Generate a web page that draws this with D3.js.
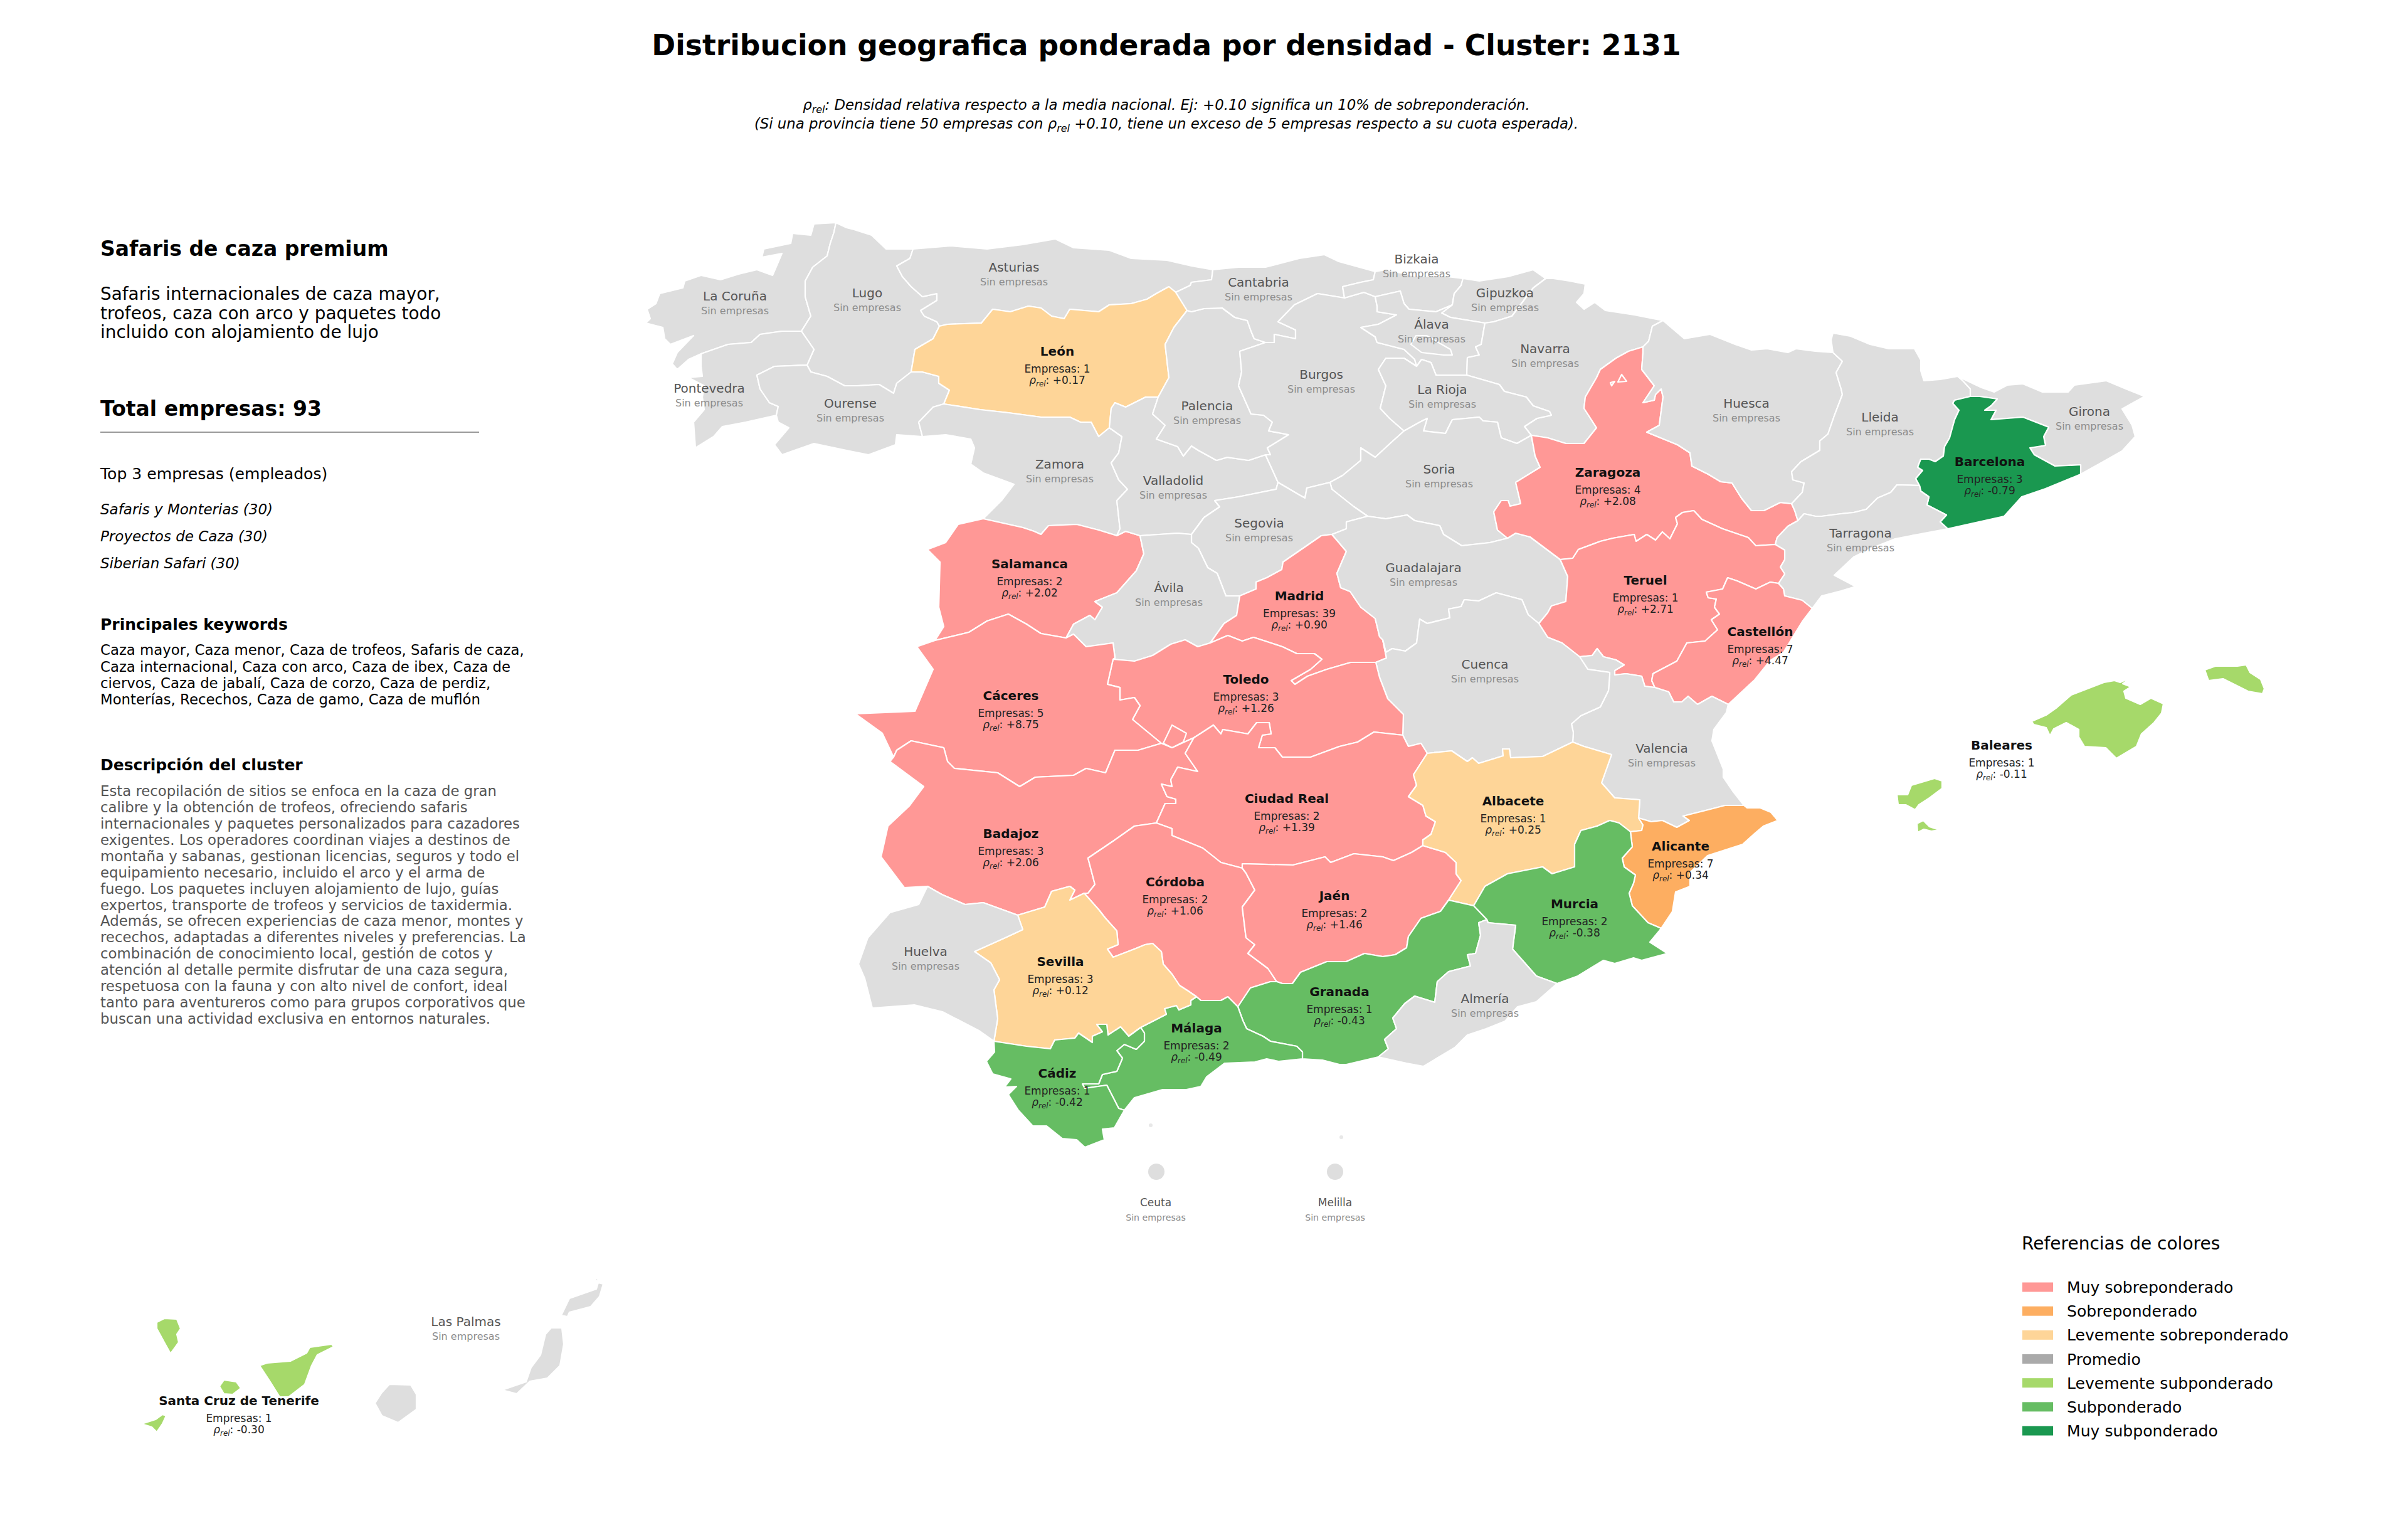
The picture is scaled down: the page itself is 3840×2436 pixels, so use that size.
<!DOCTYPE html>
<html>
<head>
<meta charset="utf-8">
<script src="https://cdn.jsdelivr.net/npm/d3@7"></script>
<style>
  body { margin: 0; background: #fff; }
  text { font-family: "DejaVu Sans", sans-serif; }
</style>
</head>
<body>
<div class="chart"></div>
<script>
// province values (null = sin empresas)
const provinces = ["La Coruña","Lugo","Asturias","Pontevedra","Ourense","León","Zamora","Salamanca","Valladolid","Palencia","Cantabria","Burgos","Bizkaia","Gipuzkoa","Álava","Navarra","La Rioja","Soria","Segovia","Ávila","Madrid","Guadalajara","Zaragoza","Huesca","Lleida","Girona","Barcelona","Tarragona","Teruel","Castellón","Valencia","Cuenca","Toledo","Cáceres","Badajoz","Ciudad Real","Córdoba","Jaén","Albacete","Alicante","Murcia","Granada","Almería","Málaga","Sevilla","Huelva","Cádiz","Baleares","Santa Cruz de Tenerife","Las Palmas"];
const empresas = [null,null,null,null,null,1,null,2,null,null,null,null,null,null,null,null,null,null,null,null,39,null,4,null,null,null,3,null,1,7,null,null,3,5,3,2,2,2,1,7,2,1,null,2,3,null,1,1,1,null];
const rhoRel = [null,null,null,null,null,0.17,null,2.02,null,null,null,null,null,null,null,null,null,null,null,null,0.90,null,2.08,null,null,null,-0.79,null,2.71,4.47,null,null,1.26,8.75,2.06,1.39,1.06,1.46,0.25,0.34,-0.38,-0.43,null,-0.49,0.12,null,-0.42,-0.11,-0.30,null];

const legendLabels = ["Muy sobreponderado","Sobreponderado","Levemente sobreponderado","Promedio","Levemente subponderado","Subponderado","Muy subponderado"];
const legendColors = ["#ff9896","#fdae61","#fed598","#aaaaaa","#a6d96a","#66bd63","#1a9850"];
const noDataColor = "#dedede";

const topCompanies = ["Safaris y Monterias (30)","Proyectos de Caza (30)","Siberian Safari (30)"];
const clusterLines = ["Safaris internacionales de caza mayor,","trofeos, caza con arco y paquetes todo","incluido con alojamiento de lujo"];
const keywordLines = ["Caza mayor, Caza menor, Caza de trofeos, Safaris de caza,","Caza internacional, Caza con arco, Caza de ibex, Caza de","ciervos, Caza de jabalí, Caza de corzo, Caza de perdiz,","Monterías, Recechos, Caza de gamo, Caza de muflón"];
const descriptionLines = ["Esta recopilación de sitios se enfoca en la caza de gran","calibre y la obtención de trofeos, ofreciendo safaris","internacionales y paquetes personalizados para cazadores","exigentes. Los operadores coordinan viajes a destinos de","montaña y sabanas, gestionan licencias, seguros y todo el","equipamiento necesario, incluido el arco y el arma de","fuego. Los paquetes incluyen alojamiento de lujo, guías","expertos, transporte de trofeos y servicios de taxidermia.","Además, se ofrecen experiencias de caza menor, montes y","recechos, adaptadas a diferentes niveles y preferencias. La","combinación de conocimiento local, gestión de cotos y","atención al detalle permite disfrutar de una caza segura,","respetuosa con la fauna y con alto nivel de confort, ideal","tanto para aventureros como para grupos corporativos que","buscan una actividad exclusiva en entornos naturales."];

// traced outlines in map units, shared borders are only stored once
const borders = {
  coast_A:"1333,355 1298,357 1293,375 1264,372 1261,388 1218,397 1215,410 1247,404 1232,439 1207,430 1178,437 1149,446 1118,439 1092,448 1089,459 1052,468 1046,484 1032,493 1037,508 1030,515 1057,522 1060,540 1069,549 1106,535 1080,562 1072,580 1080,589 1098,573 1118,564",
  A_PO:"1118,564 1138,557 1161,549 1198,546 1212,533 1247,528 1278,528",
  A_LU:"1333,355 1330,370 1324,388 1319,408 1296,426 1284,448 1284,473 1293,504 1278,528",
  LU_PO:"1278,528 1298,557 1287,582",
  PO_OU:"1287,582 1235,584 1207,598 1212,620 1227,642 1241,648 1238,662",
  coast_PO:"1238,662 1189,673 1152,680 1138,696 1109,714 1106,673 1123,653 1120,633 1123,615 1098,602 1120,600 1118,584 1118,564",
  coast_LU:"1333,355 1350,363 1362,366 1390,375 1413,397 1456,397",
  LU_AS:"1456,397 1451,412 1430,424 1439,441 1453,457 1471,473 1494,468 1494,479 1468,495 1474,504 1494,513 1498,520",
  LU_LE:"1498,520 1488,540 1459,557 1453,593",
  LU_OU:"1453,593 1430,611 1425,627 1402,613 1367,615 1347,615 1319,600 1293,593 1287,582",
  coast_AS:"1456,397 1517,392 1574,397 1631,390 1683,381 1712,395 1769,399 1804,412 1861,415 1900,424 1934,430",
  AS_CB:"1934,430 1932,446 1900,450 1898,455 1875,466",
  AS_LE:"1875,466 1864,457 1844,468 1829,477 1804,484 1769,486 1752,497 1706,493 1697,508 1677,504 1660,491 1640,488 1611,497 1583,493 1565,515 1511,517 1498,520",
  LE_CB:"1875,466 1893,495",
  LE_PA:"1893,495 1872,522 1858,549 1864,602 1847,633",
  LE_VA:"1847,633 1827,633 1795,649 1778,642 1772,651 1769,682",
  PA_VA:"1847,633 1838,660 1858,678 1844,700 1878,712 1887,727 1900,711 1911,718 1940,734 1957,729 1991,734 2018,725",
  CB_PA:"1893,495 1900,497 1920,492 1949,491 1969,506 1989,511 1995,528 2000,540 2018,546",
  PA_BU:"2018,546 1977,560 1980,593 1975,615 1995,660 2015,662 2029,673 2023,687 2055,693 2021,714 2026,725 2018,725",
  VA_BU:"2018,725 2029,749 2038,769",
  LE_ZA:"1769,682 1752,696 1740,673 1723,673 1706,665 1660,665 1608,658 1563,653 1505,644",
  LE_OU:"1505,644 1514,622 1497,611 1497,600 1471,593 1453,593",
  OU_ZA:"1505,644 1488,649 1465,673 1471,696",
  coast_OU:"1471,696 1430,693 1428,709 1385,725 1350,718 1298,707 1247,725 1235,709 1258,682 1241,673 1238,662",
  coast_ZA:"1471,696 1508,693 1548,700 1554,714 1548,740 1568,754 1617,772 1597,798 1568,827",
  ZA_SA:"1568,827 1631,841 1649,847 1660,852 1672,838 1717,836 1752,845 1781,854",
  ZA_VA:"1769,682 1789,696 1784,722 1772,738 1784,765 1798,780 1781,798 1786,843 1781,854",
  SA_VA:"1781,854 1795,847 1818,854",
  SA_AV:"1818,854 1824,883 1812,910 1781,945 1746,959 1758,968 1746,988 1738,981 1712,995 1700,1017",
  coast_SA:"1568,827 1528,836 1508,865 1479,876 1499,896 1497,968 1505,999 1491,1021",
  SA_CC:"1491,1021 1545,1008 1574,990 1608,979 1637,995 1660,1010 1700,1017",
  CC_AV:"1700,1017 1712,1011 1732,1031 1775,1025 1778,1049 1775,1051",
  coast_CC:"1491,1021 1462,1031 1488,1067 1459,1134 1364,1138 1407,1169 1425,1207",
  CC_BA:"1425,1207 1430,1196 1453,1181 1505,1192 1511,1214 1522,1225 1591,1232 1626,1254 1651,1239 1712,1236 1732,1225 1763,1232 1778,1196 1815,1196 1852,1185",
  CC_TO:"1852,1185 1806,1147 1818,1125 1809,1112 1786,1116 1786,1096 1766,1091 1775,1051",
  AV_TO:"1775,1051 1809,1054 1838,1045 1867,1027 1890,1020 1910,1031 1930,1025",
  AV_MA:"1930,1025 1952,994 1972,981 1977,950",
  SG_AV:"1900,852 1900,865 1911,874 1926,905 1941,914 1955,950 1977,950",
  AV_VA:"1818,854 1878,850 1900,852",
  SG_VA:"1900,852 1920,825 1945,808 1937,798 1975,792 2035,780 2038,769",
  SG_BU:"2038,769 2072,789 2081,794 2084,778 2121,769",
  SG_SO:"2121,769 2124,780 2158,807 2181,823",
  SG_GU:"2181,823 2147,832 2147,843 2124,852",
  SG_MA:"1977,950 2003,939 2003,928 2020,921 2044,908 2046,896 2078,874 2107,854 2124,852",
  MA_GU:"2124,852 2147,879 2132,914 2138,937 2153,943 2170,968 2193,986 2200,1015 2205,1020",
  MA_CU:"2205,1020 2211,1049 2194,1056",
  MA_TO:"1930,1025 1958,1013 1981,1022 1999,1016 2045,1031 2068,1042 2096,1042 2108,1051 2090,1067 2059,1085 2065,1091 2085,1078 2116,1067 2154,1056 2194,1056",
  GU_SO:"2181,823 2210,827 2244,821 2256,830 2296,838 2302,852 2331,870 2376,865 2404,858",
  SO_Z:"2442,694 2448,727 2456,745 2417,769 2425,803 2408,807 2405,798 2394,798 2382,816 2388,845 2404,858",
  GU_Z:"2404,858 2417,850 2440,856 2488,892",
  GU_TE:"2488,892 2500,919 2497,959 2474,966 2468,977 2454,994",
  GU_CU:"2454,994 2437,980 2427,956 2386,945 2358,958 2335,956 2330,967 2310,971 2312,985 2276,994 2264,987 2259,1025 2241,1038 2220,1034 2210,1040 2205,1020",
  Z_TE:"2488,892 2508,890 2517,876 2552,863 2572,858 2606,852 2609,863 2626,852 2640,861 2651,848 2663,859 2675,835 2672,825 2683,817 2701,814 2714,828 2747,843 2788,857 2800,870 2831,868",
  BU_SO:"2121,769 2141,758 2170,734 2170,714 2193,729 2219,705 2239,687",
  SO_RI:"2239,687 2264,673 2276,667 2270,687 2305,691 2316,669 2359,665 2365,671 2388,673 2394,698 2419,707 2442,694",
  BU_RI:"2239,687 2216,667 2201,651 2210,615 2198,589 2210,571 2239,571 2259,584",
  AL_RI:"2259,584 2267,573 2282,578 2290,598 2316,598 2339,598",
  AL_BU:"2193,473 2196,488 2196,497 2227,502 2198,517 2170,522 2193,537 2196,546 2239,557 2256,573 2259,584",
  NA_RI:"2339,598 2391,613 2399,624 2434,633 2445,647 2471,656 2474,662 2451,667 2431,680 2442,694",
  AL_NA:"2368,515 2362,549 2353,553 2359,566 2340,570 2339,598",
  GI_AL:"2316,486 2299,499 2313,506 2368,515",
  BI_AL:"2193,473 2233,464 2239,484 2247,493 2290,497 2316,486",
  BI_GI:"2333,444 2330,455 2319,468 2316,486",
  GI_NA:"2465,444 2445,459 2411,504 2382,513 2368,515",
  coast_GI:"2333,444 2359,448 2405,441 2445,430 2465,444",
  coast_BI:"2193,433 2210,430 2256,440 2300,440 2333,444",
  CB_BI:"2193,433 2190,446 2170,450 2141,457 2144,475",
  BI_BU:"2144,475 2175,466 2193,473",
  CB_BU:"2018,546 2032,546 2032,533 2066,540 2066,526 2038,513 2064,486 2101,468 2144,475",
  coast_CB:"1934,430 1975,426 2018,426 2072,412 2112,406 2135,417 2193,433",
  coast_NA:"2465,444 2477,444 2503,448 2528,453 2526,468 2514,482 2526,493 2543,482 2560,495 2606,502 2652,511",
  NA_HU:"2652,511 2635,520 2629,544 2620,553",
  NA_Z:"2620,553 2597,560 2577,571 2552,589 2546,602 2528,633 2526,651 2546,682 2526,707 2497,707 2468,698 2442,694",
  Z_HU:"2620,553 2620,562 2618,589 2638,615 2620,642 2638,638 2640,629 2649,620 2652,633 2646,678 2626,689 2675,709 2695,722 2698,743 2724,756 2744,768 2762,770 2777,794 2793,814 2813,814 2839,801 2857,803",
  Z_L:"2857,803 2862,814 2867,830",
  Z_T:"2867,830 2851,839 2834,857 2831,868",
  coast_HU:"2652,511 2686,540 2727,533 2767,549 2793,558 2818,556 2851,562 2864,556 2895,560 2923,562",
  HU_L:"2923,562 2938,576 2928,594 2936,620 2938,629 2925,663 2915,692 2902,703 2902,718 2872,736 2857,752 2859,765 2877,770 2874,785 2857,803",
  L_T:"2867,830 2877,819 2895,823 2905,823 2936,819 2956,817 2976,812 2994,794 3015,785 3025,773 3061,774",
  L_B:"3061,774 3055,763 3066,750 3058,745 3063,732 3076,732 3086,736 3099,727 3101,712 3109,698 3112,687 3117,669 3124,654 3114,643 3117,638 3142,632",
  coast_L:"2923,562 2920,542 2923,531 2951,536 2982,549 3012,556 3053,556 3063,574 3063,591 3068,607 3094,605 3122,600",
  L_GI:"3122,600 3130,607 3142,620 3142,632",
  GI_B:"3142,632 3157,632 3185,636 3175,647 3165,654 3183,654 3175,669 3226,665 3267,681 3259,696 3262,710 3237,714 3244,725 3277,743 3318,741 3318,756",
  coast_G:"3122,600 3160,618 3180,625 3201,614 3226,612 3257,625 3298,625 3308,614 3359,607 3390,620 3420,632 3400,643 3384,652 3400,678 3405,696 3384,719 3354,736 3318,756",
  coast_B:"3318,756 3262,779 3224,792 3196,823 3106,843",
  B_T:"3061,774 3063,783 3076,792 3073,805 3104,821 3094,832 3106,843",
  coast_T:"3106,843 3058,852 3022,859 2982,875 2956,888 2925,917 2959,935 2936,942 2905,950 2890,970",
  T_CS:"2890,970 2874,957 2846,950 2844,939 2836,930",
  T_TE:"2831,868 2846,877 2846,892 2839,904 2846,915 2836,930",
  coast_CS:"2890,970 2874,991 2844,1040 2823,1053 2798,1084 2756,1123",
  CS_TE:"2836,930 2823,928 2800,939 2770,926 2755,921 2747,939 2721,944 2724,953 2737,955 2734,968 2742,979 2729,988 2739,1004 2719,1022 2690,1025 2674,1054 2636,1074 2634,1085 2639,1096",
  CS_V:"2639,1096 2661,1103 2669,1119 2682,1119 2692,1110 2707,1123 2730,1110 2756,1123",
  TE_V:"2639,1096 2623,1094 2618,1078 2593,1074 2575,1076",
  TE_RN:"2575,1076 2575,1069 2590,1060 2577,1052 2557,1047 2547,1034 2539,1045 2519,1047",
  CU_TE:"2454,994 2468,1016 2491,1025 2519,1047",
  CU_RN:"2519,1047 2532,1067 2567,1072 2567,1076",
  CU_V:"2508,1183 2509,1168 2506,1154 2521,1141 2552,1127 2565,1101 2567,1076",
  coast_V:"2756,1123 2753,1136 2733,1163 2730,1181 2748,1226 2748,1239 2763,1261 2781,1284",
  V_A:"2781,1284 2751,1284 2720,1292 2684,1301 2694,1308 2674,1319 2651,1308 2633,1310 2613,1304",
  AB_V:"2613,1304 2615,1275 2575,1272 2554,1248 2570,1203 2526,1190 2508,1183",
  AB_CU:"2508,1183 2460,1206 2409,1208 2407,1194 2396,1194 2397,1205 2358,1217 2348,1208 2340,1214 2315,1197 2276,1201",
  TO_CU:"2194,1056 2200,1080 2213,1114 2238,1139 2237,1172",
  CR_CU:"2237,1172 2246,1190 2266,1185 2276,1201",
  CR_TO:"2237,1172 2191,1167 2165,1183 2136,1190 2090,1207 2045,1207 2033,1192 2007,1192 2013,1172 2027,1170 2024,1152 2004,1152 1990,1170 1950,1163 1947,1170 1935,1156 1915,1169 1904,1176",
  BA_TO:"1852,1185 1869,1192 1904,1176",
  CR_BA:"1904,1176 1890,1201 1910,1230 1878,1223 1867,1243 1869,1254 1852,1250 1861,1270 1875,1274 1875,1281 1858,1281 1844,1312",
  BA_CO:"1844,1312 1809,1317 1775,1341 1735,1368 1746,1410 1735,1424 1729,1424",
  CR_CO:"1844,1312 1869,1321 1869,1332 1918,1352 1947,1375 1981,1384",
  CR_J:"1981,1384 1981,1377 2062,1379 2113,1366 2122,1375 2159,1361 2205,1366 2222,1372 2251,1359 2269,1348",
  AB_CR:"2276,1201 2254,1235 2259,1252 2246,1270 2269,1284 2274,1301 2289,1310 2282,1330 2269,1339 2269,1348",
  AB_J:"2269,1348 2305,1359 2322,1375 2322,1393 2330,1404 2310,1435",
  AB_GR:"2310,1435 2350,1444",
  AB_MU:"2350,1444 2368,1413 2404,1393 2460,1382 2475,1393 2511,1382 2511,1346 2521,1324 2547,1317 2567,1308 2582,1312 2600,1326",
  AB_A:"2600,1326 2618,1324 2620,1315 2613,1304",
  coast_A2:"2781,1284 2786,1288 2807,1288 2824,1295 2835,1308 2812,1317 2799,1328 2779,1346 2723,1364 2695,1391 2695,1413 2672,1422 2667,1453 2649,1480",
  MU_A:"2600,1326 2603,1350 2587,1368 2590,1382 2608,1395 2605,1408 2598,1424 2603,1444 2628,1471 2649,1480",
  coast_MU:"2649,1480 2646,1484 2631,1502 2659,1520 2618,1531 2605,1527 2575,1536 2557,1531 2516,1556 2483,1568",
  MU_AL:"2483,1568 2450,1556 2412,1513 2417,1475 2373,1471 2371,1466",
  GR_MU:"2350,1444 2371,1466",
  AL_GR:"2371,1466 2358,1471 2361,1491 2353,1520 2340,1522 2345,1540 2310,1549 2292,1565 2288,1598 2256,1588 2240,1600 2221,1623 2227,1640 2208,1657 2214,1672 2198,1685",
  coast_AL:"2483,1568 2450,1597 2420,1605 2400,1628 2370,1640 2340,1650 2320,1670 2270,1700 2243,1695 2198,1685",
  coast_GR:"2198,1685 2147,1697 2136,1697 2109,1690 2077,1688",
  GR_MA:"2077,1688 2077,1677 2068,1668 2026,1660 2014,1652 1988,1640 1982,1627 1974,1605",
  CO_GR:"1974,1605 1994,1575 2026,1565 2036,1565",
  J_GR:"2036,1565 2045,1568 2061,1568 2074,1550 2116,1533 2147,1533 2176,1520 2205,1525 2225,1522 2243,1511 2246,1493 2266,1464 2297,1453 2310,1435",
  CO_J:"1981,1384 1987,1392 2001,1419 1981,1446 1987,1495 2001,1506 1990,1520 2022,1544 2036,1565",
  CO_SE:"1729,1424 1752,1450 1763,1464 1781,1484 1783,1506 1766,1513 1775,1526 1809,1513 1826,1506 1838,1504 1852,1517 1855,1537 1869,1553 1881,1571 1895,1580 1908,1589",
  CO_MA:"1908,1589 1915,1595 1947,1595 1958,1589 1974,1605",
  BA_SE:"1729,1424 1706,1435 1714,1419 1706,1413 1677,1421 1666,1446 1623,1459",
  BA_H:"1623,1459 1568,1439 1539,1442 1502,1426 1479,1413",
  coast_BA:"1425,1207 1419,1214 1473,1254 1450,1285 1416,1317 1405,1366 1442,1415 1479,1413",
  H_SE:"1623,1459 1631,1482 1603,1495 1554,1517 1580,1535 1594,1562 1585,1578 1591,1624 1585,1660",
  coast_H:"1479,1413 1465,1442 1419,1455 1384,1495 1369,1537 1379,1560 1391,1607 1458,1602 1503,1613 1561,1643 1585,1660",
  SE_CA:"1585,1660 1637,1668 1675,1672 1682,1658 1714,1655 1720,1647 1742,1662 1742,1652 1758,1645 1749,1633 1765,1633 1767,1650 1787,1637 1800,1652 1819,1638",
  SE_MA:"1819,1638 1860,1617 1857,1608 1876,1603 1880,1610 1899,1602 1899,1595 1908,1589",
  CA_MA:"1819,1638 1825,1647 1825,1660 1812,1673 1793,1665 1781,1675 1790,1687 1781,1708 1758,1713 1752,1728 1726,1728 1730,1735 1765,1730 1784,1767 1793,1770",
  coast_MA:"1793,1770 1809,1750 1854,1737 1892,1737 1915,1732 1924,1717 1953,1695 2001,1693 2020,1688 2039,1692 2077,1688",
  coast_CA:"1585,1660 1586,1677 1573,1692 1583,1712 1612,1720 1602,1733 1621,1732 1608,1745 1624,1770 1647,1795 1669,1795 1694,1815 1717,1817 1730,1829 1761,1817 1758,1800 1777,1798 1793,1770",
  // islands and enclaves, each one is a closed ring
  mallorca:"3240,1150 3263,1140 3280,1128 3303,1108 3355,1088 3372,1085 3381,1088 3398,1080 3385,1090 3398,1095 3387,1102 3390,1113 3413,1123 3430,1113 3450,1122 3447,1137 3435,1152 3415,1170 3407,1190 3375,1209 3358,1192 3324,1190 3315,1175 3315,1163 3295,1152 3275,1162 3269,1173 3263,1160 3243,1155",
  menorca:"3516,1068 3533,1062 3568,1062 3582,1060 3588,1072 3605,1083 3611,1098 3608,1106 3585,1102 3545,1082 3522,1085",
  ibiza:"3025,1267 3042,1267 3048,1252 3085,1241 3097,1245 3097,1257 3077,1272 3060,1283 3054,1291 3039,1283 3027,1283",
  formentera:"3057,1313 3067,1308 3077,1318 3092,1323 3080,1325 3068,1322 3058,1327",
  cabrera:"3349,1235 3352,1232 3355,1235",
  laPalma:"250,2108 262,2102 282,2103 288,2118 282,2127 285,2140 272,2158 262,2140 250,2118",
  gomera:"350,2210 357,2200 377,2203 384,2213 371,2223 357,2222",
  tenerife:"414,2177 426,2173 463,2170 489,2157 494,2148 529,2143 532,2147 506,2160 497,2177 486,2207 460,2227 446,2227 431,2203",
  hierro:"226,2270 248,2263 259,2255 265,2257 259,2270 250,2283 242,2275",
  granCanaria:"598,2237 609,2220 621,2207 655,2208 664,2223 664,2247 635,2268 609,2257",
  fuerteventura:"801,2216 839,2203 847,2180 862,2160 870,2127 879,2117 896,2117 899,2143 893,2177 873,2197 845,2202 824,2222",
  lanzarote:"895,2097 908,2070 931,2062 951,2055 954,2045 962,2047 956,2067 942,2083 908,2092 905,2099",
  graciosa:"949,2042 952,2036 954,2042",
  encl_BA:"1855,1185 1869,1156 1892,1169 1887,1183 1869,1192",
  encl_Z1:"2586,597 2594,608 2580,609",
  encl_Z2:"2568,610 2575,608 2570,615",
  encl_AL:"2250,549 2267,562 2302,566 2316,566 2313,557 2299,549 2275,535 2258,535"
};

// which borders close each province, same order as provinces[]
const rings = [
  [["coast_A","A_PO","A_LU"]],
  [["coast_LU","LU_AS","LU_LE","LU_OU","LU_PO","A_LU"]],
  [["coast_AS","AS_CB","AS_LE","LU_AS"]],
  [["A_PO","LU_PO","PO_OU","coast_PO"]],
  [["PO_OU","LU_OU","LE_OU","OU_ZA","coast_OU"]],
  [["AS_LE","LE_CB","LE_PA","LE_VA","LE_ZA","LE_OU","LU_LE"]],
  [["LE_ZA","ZA_VA","ZA_SA","coast_ZA","OU_ZA"]],
  [["ZA_SA","SA_VA","SA_AV","SA_CC","coast_SA"]],
  [["LE_VA","PA_VA","VA_BU","SG_VA","AV_VA","SA_VA","ZA_VA"]],
  [["LE_PA","PA_VA","PA_BU","CB_PA"]],
  [["coast_CB","CB_BI","CB_BU","CB_PA","LE_CB","AS_CB"]],
  [["CB_BU","BI_BU","AL_BU","BU_RI","BU_SO","SG_BU","VA_BU","PA_BU"]],
  [["coast_BI","BI_GI","BI_AL","BI_BU","CB_BI"]],
  [["coast_GI","GI_NA","GI_AL","BI_GI"]],
  [["BI_AL","GI_AL","AL_NA","AL_RI","AL_BU"],["encl_AL"]],
  [["coast_NA","NA_HU","NA_Z","NA_RI","AL_NA","GI_NA"]],
  [["BU_RI","AL_RI","NA_RI","SO_RI"]],
  [["SG_SO","BU_SO","SO_RI","SO_Z","GU_SO"]],
  [["SG_VA","SG_BU","SG_SO","SG_GU","SG_MA","SG_AV"]],
  [["AV_VA","SG_AV","AV_MA","AV_TO","CC_AV","SA_AV"]],
  [["AV_MA","SG_MA","MA_GU","MA_CU","MA_TO"]],
  [["SG_GU","GU_SO","GU_Z","GU_TE","GU_CU","MA_GU"]],
  [["NA_Z","Z_HU","Z_L","Z_T","Z_TE","GU_Z","SO_Z"],["encl_Z1"],["encl_Z2"]],
  [["coast_HU","HU_L","Z_HU","NA_HU"]],
  [["coast_L","L_GI","L_B","L_T","Z_L","HU_L"]],
  [["coast_G","GI_B","L_GI"]],
  [["GI_B","coast_B","B_T","L_B"]],
  [["L_T","B_T","coast_T","T_CS","T_TE","Z_T"]],
  [["Z_TE","T_TE","CS_TE","TE_V","TE_RN","CU_TE","GU_TE"]],
  [["T_CS","coast_CS","CS_V","CS_TE"]],
  [["CU_V","CU_RN","TE_RN","TE_V","CS_V","coast_V","V_A","AB_V"]],
  [["GU_CU","CU_TE","CU_RN","CU_V","AB_CU","CR_CU","TO_CU","MA_CU"]],
  [["AV_TO","MA_TO","TO_CU","CR_TO","BA_TO","CC_TO"]],
  [["SA_CC","CC_AV","CC_TO","CC_BA","coast_CC"]],
  [["CC_BA","BA_TO","CR_BA","BA_CO","BA_SE","BA_H","coast_BA"],["encl_BA"]],
  [["CR_TO","CR_CU","AB_CR","CR_J","CR_CO","CR_BA"]],
  [["BA_CO","CR_CO","CO_J","CO_GR","CO_MA","CO_SE"]],
  [["CR_J","AB_J","J_GR","CO_J"]],
  [["AB_CU","AB_V","AB_A","AB_MU","AB_GR","AB_J","AB_CR"]],
  [["AB_A","V_A","coast_A2","MU_A"]],
  [["AB_MU","MU_A","coast_MU","MU_AL","GR_MU","AB_GR"]],
  [["AB_GR","GR_MU","AL_GR","coast_GR","GR_MA","CO_GR","J_GR"]],
  [["AL_GR","MU_AL","coast_AL"]],
  [["SE_MA","CO_MA","GR_MA","coast_MA","CA_MA"]],
  [["BA_SE","CO_SE","SE_MA","SE_CA","H_SE"]],
  [["BA_H","H_SE","coast_H"]],
  [["SE_CA","CA_MA","coast_CA"]],
  [["mallorca"],["menorca"],["ibiza"],["formentera"],["cabrera"]],
  [["laPalma"],["gomera"],["tenerife"],["hierro"]],
  [["granCanaria"],["fuerteventura"],["lanzarote"],["graciosa"]]
];

// label anchors, same order as provinces[]
const labelAnchors = [[1172,472],[1383,467],[1617,426],[1131,619],[1356,643],[1686,560],[1690,740],[1642,899],[1871,766],[1925,647],[2007,450],[2107,597],[2259,413],[2400,467],[2283,517],[2464,556],[2300,621],[2295,748],[2008,834],[1864,937],[2072,950],[2270,905],[2564,753],[2785,643],[2998,665],[3332,656],[3173,736],[2967,850],[2624,925],[2807,1007],[2650,1193],[2368,1059],[1987,1083],[1612,1109],[1612,1329],[2052,1273],[1874,1406],[2128,1428],[2413,1277],[2680,1349],[2511,1441],[2136,1581],[2368,1592],[1908,1639],[1691,1533],[1476,1517],[1686,1711],[3192,1188],[381,2233],[743,2107]];

// plazas sin contorno
const cityNames = ["Ceuta","Melilla"];
const cityPoints = [[1844,1868],[2129,1868]];
const cityLabels = [[1843,1917],[2129,1917]];

const width = 3840, height = 2436;

const mapX = d3.scaleLinear().domain([0, 3840]).range([0, width]);
const mapY = d3.scaleLinear().domain([0, 2436]).range([0, height]);

// rho -> colour
const rhoColor = d3.scaleThreshold()
  .domain([-0.6, -0.35, -0.05, 0.05, 0.3, 0.5])
  .range(legendColors.slice().reverse());

const svg = d3.select(".chart").append("svg")
  .attr("width", width)
  .attr("height", height)
  .style("display", "block")
  .style("background", "#fff");

function parseBorder(name) {
  return borders[name].split(" ").map(p => p.split(",").map(Number));
}
function dist(a, b) { return Math.hypot(a[0] - b[0], a[1] - b[1]); }

// chain arcs in ring order, flipping whichever way connects
function buildRing(names) {
  let pts = [];
  names.forEach((name, i) => {
    let arc = parseBorder(name);
    if (i == 0) {
      if (names.length > 1) {
        const next = parseBorder(names[1]);
        const e1 = Math.min(dist(arc[arc.length - 1], next[0]), dist(arc[arc.length - 1], next[next.length - 1]));
        const e0 = Math.min(dist(arc[0], next[0]), dist(arc[0], next[next.length - 1]));
        if (e0 < e1) arc.reverse();
      }
    } else {
      const end = pts[pts.length - 1];
      if (dist(end, arc[arc.length - 1]) < dist(end, arc[0])) arc.reverse();
    }
    pts = pts.concat(arc);
  });
  return pts;
}

const ringLine = d3.line().x(d => mapX(d[0])).y(d => mapY(d[1]));

const mapG = svg.append("g").attr("class", "map");

// every ring gets its own path so enclaves do not punch holes
mapG.selectAll("g.province")
  .data(provinces)
  .enter()
  .append("g")
  .attr("class", "province")
  .attr("fill", (d, i) => rhoRel[i] === null ? noDataColor : rhoColor(rhoRel[i]))
  .selectAll("path")
  .data((d, i) => rings[i])
  .enter()
  .append("path")
  .attr("d", r => ringLine(buildRing(r)) + "Z")
  .attr("stroke", "white")
  .attr("stroke-width", 2.2)
  .attr("stroke-linejoin", "round");

// small rocks next to Ceuta and Melilla
mapG.selectAll("circle.rock")
  .data([[1835, 1794], [2139, 1813]])
  .enter()
  .append("circle")
  .attr("class", "rock")
  .attr("cx", d => mapX(d[0]))
  .attr("cy", d => mapY(d[1]))
  .attr("r", 3)
  .attr("fill", "#e8e8e8");

mapG.selectAll("circle.city")
  .data(cityPoints)
  .enter()
  .append("circle")
  .attr("class", "city")
  .attr("cx", d => mapX(d[0]))
  .attr("cy", d => mapY(d[1]))
  .attr("r", 13)
  .attr("fill", noDataColor);

function addText(x, y, str, size, opts) {
  opts = opts || {};
  return svg.append("text")
    .attr("x", x)
    .attr("y", y)
    .attr("dy", "0.36em")
    .attr("font-size", size)
    .attr("font-weight", opts.weight || "normal")
    .attr("font-style", opts.style || "normal")
    .attr("text-anchor", opts.anchor || "start")
    .attr("fill", opts.fill || "#000")
    .text(str);
}

function rhoSymbol(t, size, fill) {
  t.append("tspan").attr("font-style", "italic").attr("fill", fill).text("ρ");
  t.append("tspan").attr("font-style", "italic").attr("fill", fill)
    .attr("font-size", size * 0.7).attr("dy", size * 0.22).text("rel");
}

// plain hyphen for negatives, like the original labels
const rhoFormat = v => d3.format("+.2f")(v).replace("−", "-");

// province labels
provinces.forEach((name, i) => {
  const x = mapX(labelAnchors[i][0]), y = mapY(labelAnchors[i][1]);
  if (empresas[i] === null) {
    addText(x, y, name, 20, {anchor: "middle", fill: "#555"});
    addText(x, y + 23, "Sin empresas", 16, {anchor: "middle", fill: "#8c8c8c"});
  } else {
    addText(x, y, name, 20, {anchor: "middle", weight: "bold", fill: "#111"});
    addText(x, y + 28, "Empresas: " + empresas[i], 17, {anchor: "middle", fill: "#222"});
    const t = addText(x, y + 46, "", 17, {anchor: "middle", fill: "#222"});
    rhoSymbol(t, 17, "#222");
    t.append("tspan").attr("dy", -17 * 0.22).text(": " + rhoFormat(rhoRel[i]));
  }
});

cityNames.forEach((name, i) => {
  const x = mapX(cityLabels[i][0]), y = mapY(cityLabels[i][1]);
  addText(x, y, name, 17, {anchor: "middle", fill: "#555"});
  addText(x, y + 24, "Sin empresas", 14.2, {anchor: "middle", fill: "#8c8c8c"});
});

// title block
addText(1860, 72, "Distribucion geografica ponderada por densidad - Cluster: 2131", 45.6, {anchor: "middle", weight: "bold"});

const sub1 = addText(1860, 167, "", 22.8, {anchor: "middle", style: "italic"});
rhoSymbol(sub1, 22.8, "#000");
sub1.append("tspan").attr("dy", -22.8 * 0.22).text(": Densidad relativa respecto a la media nacional. Ej: +0.10 significa un 10% de sobreponderación.");

const sub2 = addText(1860, 197, "", 22.8, {anchor: "middle", style: "italic"});
sub2.append("tspan").text("(Si una provincia tiene 50 empresas con ");
rhoSymbol(sub2, 22.8, "#000");
sub2.append("tspan").attr("dy", -22.8 * 0.22).text(" +0.10, tiene un exceso de 5 empresas respecto a su cuota esperada).");

// left panel
const panelX = 160;
addText(panelX, 396, "Safaris de caza premium", 33, {weight: "bold"});
clusterLines.forEach((l, i) => addText(panelX, 468 + i * 30.5, l, 27.9));
addText(panelX, 651, "Total empresas: 93", 33, {weight: "bold"});
svg.append("line")
  .attr("x1", panelX).attr("x2", 764)
  .attr("y1", 689).attr("y2", 689)
  .attr("stroke", "#999").attr("stroke-width", 2);
addText(panelX, 755, "Top 3 empresas (empleados)", 25.1);
topCompanies.forEach((l, i) => addText(panelX, 812 + i * 43, l, 23, {style: "italic"}));
addText(panelX, 995, "Principales keywords", 25, {weight: "bold"});
keywordLines.forEach((l, i) => addText(panelX, 1036 + i * 26.3, l, 22.8));
addText(panelX, 1219, "Descripción del cluster", 25, {weight: "bold"});
descriptionLines.forEach((l, i) => addText(panelX, 1261 + i * 25.9, l, 22.8, {fill: "#555"}));

// legend
addText(3224, 1982, "Referencias de colores", 28);
const legendY = d3.scalePoint().domain(legendLabels).range([2052, 2281]);
const legend = svg.append("g").attr("class", "legend");
legend.selectAll("rect")
  .data(legendLabels)
  .enter()
  .append("rect")
  .attr("x", 3225)
  .attr("y", d => legendY(d) - 7.5)
  .attr("width", 49)
  .attr("height", 15)
  .attr("fill", (d, i) => legendColors[i]);
legendLabels.forEach(l => addText(3296, legendY(l), l, 25.1));
</script>
</body>
</html>
